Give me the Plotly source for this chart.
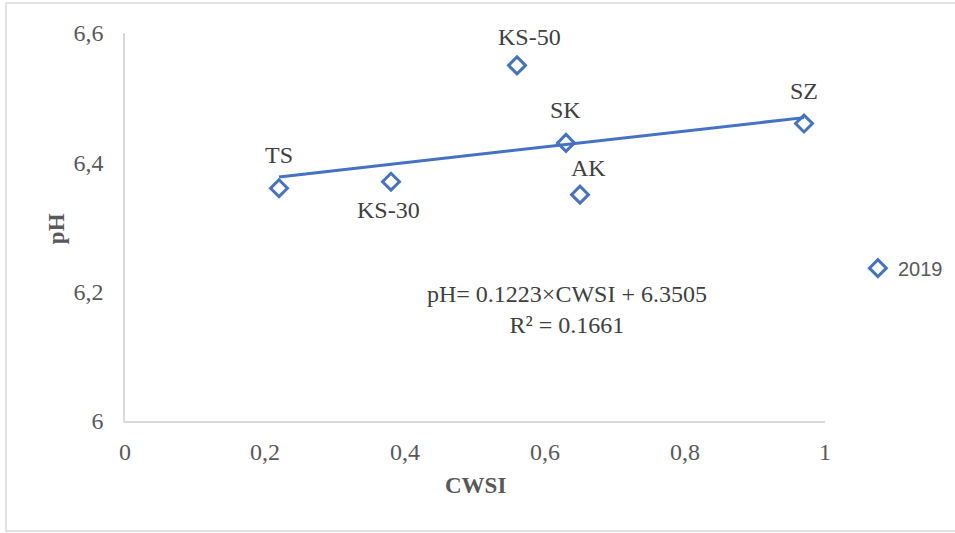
import plotly.graph_objects as go

# Sample plots: crop water stress index vs. soil pH
sites = ["TS", "KS-30", "KS-50", "SK", "AK", "SZ"]
cwsi = [0.22, 0.38, 0.56, 0.63, 0.65, 0.97]
ph = [6.36, 6.37, 6.55, 6.43, 6.35, 6.46]

# Pixel offsets of each site label from its marker
label_dx = [0, -3, 12, -1, 8, 0]
label_dy = [33, -28, 28, 33, 27, 33]

# Linear fit reported for the 2019 season
slope = 0.1223
intercept = 6.3505
r_squared = 0.1661

x_ticks = [0, 0.2, 0.4, 0.6, 0.8, 1]
x_tick_text = ["0", "0,2", "0,4", "0,6", "0,8", "1"]
y_ticks = [6, 6.2, 6.4, 6.6]
y_tick_text = ["6", "6,2", "6,4", "6,6"]

blue = "#4472C4"
serif = "Liberation Serif, Times New Roman, serif"
text_grey = "#404040"
axis_grey = "#595959"

fig = go.Figure()

fit_x = [min(cwsi), max(cwsi)]
fit_y = [slope * v + intercept for v in fit_x]
fig.add_trace(go.Scatter(
    x=fit_x, y=fit_y, mode="lines",
    line=dict(color=blue, width=3),
    showlegend=False, hoverinfo="skip",
))

fig.add_trace(go.Scatter(
    x=cwsi, y=ph, mode="markers", name="2019",
    marker=dict(symbol="diamond-open", size=13, color=blue, line=dict(color=blue, width=3)),
))

for name, xv, yv, dx, dy in zip(sites, cwsi, ph, label_dx, label_dy):
    fig.add_annotation(
        x=xv, y=yv, xref="x", yref="y", text=name, showarrow=False,
        xshift=dx, yshift=dy,
        font=dict(family=serif, size=24, color=text_grey),
    )

fig.add_annotation(
    x=0.631, y=6.172, xref="x", yref="y",
    text=f"pH= {slope}×CWSI + {intercept}<br>R² = {r_squared}",
    showarrow=False, align="center",
    font=dict(family=serif, size=24, color=text_grey),
)

# axis titles
fig.add_annotation(
    x=0.5, y=-0.165, xref="paper", yref="paper", text="<b>CWSI</b>",
    xanchor="center", yanchor="middle",
    showarrow=False, font=dict(family=serif, size=23, color=axis_grey),
)
fig.add_annotation(
    x=-0.0986, y=0.497, xref="paper", yref="paper", text="<b>pH</b>", textangle=-90,
    xanchor="center", yanchor="middle",
    showarrow=False, font=dict(family=serif, size=23, color=axis_grey),
)

# outer chart frame (runs past the right edge of the page)
fig.add_shape(
    type="rect", xref="paper", yref="paper",
    x0=-0.17, x1=1.2, y0=-0.2835, y1=1.0773,
    line=dict(color="#D9D9D9", width=1.5), fillcolor="rgba(0,0,0,0)", layer="below",
)

fig.update_layout(
    width=955, height=533,
    margin=dict(l=125, r=130, t=33, b=112, autoexpand=False),
    plot_bgcolor="white", paper_bgcolor="white",
    showlegend=True,
    legend=dict(
        x=1.047, y=0.394, xanchor="left", yanchor="middle",
        font=dict(family="Liberation Sans, Arial, sans-serif", size=20, color=axis_grey),
        bgcolor="rgba(0,0,0,0)", itemwidth=30,
    ),
    xaxis=dict(
        range=[0, 1], tickvals=x_ticks, ticktext=x_tick_text,
        showgrid=False, zeroline=False, showline=True, linecolor="#D9D9D9", linewidth=1.5,
        ticks="", ticklabelstandoff=8,
        tickfont=dict(family=serif, size=24, color=axis_grey),
    ),
    yaxis=dict(
        range=[6, 6.6], tickvals=y_ticks, ticktext=y_tick_text,
        showgrid=False, zeroline=False, showline=True, linecolor="#D9D9D9", linewidth=1.5,
        ticks="", ticklabelstandoff=15,
        tickfont=dict(family=serif, size=24, color=axis_grey),
    ),
)

fig.write_html("out.html")
